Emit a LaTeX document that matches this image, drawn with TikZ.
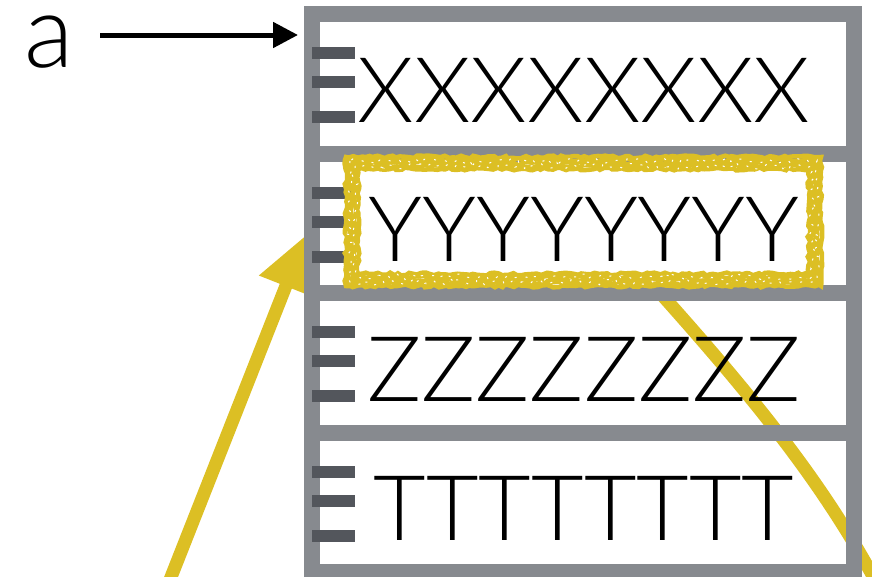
\documentclass[tikz,border=0pt]{standalone}
\usepackage{fontspec}
\setmainfont{Lato Light}
\usetikzlibrary{arrows.meta,decorations.pathmorphing}
\definecolor{framegray}{HTML}{878A8F}
\definecolor{notchgray}{HTML}{53565C}
\definecolor{chalkyellow}{HTML}{DCBF24}

\begin{document}
\begin{tikzpicture}[x=1pt,y=-1pt,
    cell/.style={draw=framegray,line width=16pt,minimum width=542pt,minimum height=139.5pt,inner sep=0pt},
    word/.style={anchor=base,inner sep=0pt,font=\fontsize{90.7}{90}\selectfont},
    notch/.style={fill=notchgray},
    hint/.style={draw=chalkyellow,line width=13pt},
    chalk/.style={draw=chalkyellow,line width=4.5pt,line join=miter,decorate,
      decoration={random steps,segment length=4pt,amplitude=1.4pt}},
    grain/.style={draw=white,line width=1pt,dash pattern=on 2pt off 9pt,decorate,
      decoration={random steps,segment length=4pt,amplitude=3pt}},
    pointer/.style={draw=black,line width=5pt,-{Triangle[length=25pt,width=25pt]}}]
  \useasboundingbox (0,0) rectangle (872,576);
  \clip (0,0) rectangle (872,576);
  \pgfmathsetseed{7}
  % yellow hints go behind the frame
  \coordinate (foot) at (160,605);
  \coordinate (aim) at (306,235);
  \coordinate (root) at (653,285);
  \coordinate (tail) at (886,600);
  \draw[hint,-{Triangle[length=55pt,width=54pt]}] (foot) -- (aim);
  \draw[hint] (root) .. controls (788,435) and (838,510) .. (tail);
  % frame rows
  \foreach \r in {1,...,4}
    \node[cell] (row\r) at (583,{83.75+139.5*(\r-1)}) {};
  \foreach \r in {0,...,3}
    \foreach \d in {39,68,103}
      \fill[notch] (312,{14+139.5*\r+\d-6}) rectangle ++(43,12);
  % marked row, drawn as a rough chalk band
  \coordinate (pickA) at (352,163);
  \coordinate (pickB) at (815,280);
  \foreach \o in {-6,-3,...,6}
    \draw[chalk] ([shift={(-\o,-\o)}]pickA) rectangle ([shift={(\o,\o)}]pickB);
  \draw[grain] ([shift={(-2,-2)}]pickA) rectangle ([shift={(2,2)}]pickB);
  \draw[grain] ([shift={(3,3)}]pickA) rectangle ([shift={(-3,-3)}]pickB);
  % contents
  \node[word] (xrow) at (584,122) {XXXXXXXX};
  \node[word] (yrow) at (584,261.5) {YYYYYYYY};
  \node[word] (zrow) at (584,401) {ZZZZZZZZ};
  \node[word] (trow) at (584,540.5) {TTTTTTTT};
  % label
  \node[anchor=base,inner sep=0pt,font=\fontsize{102}{102}\selectfont] (alabel) at (49.5,67) {a};
  \coordinate (apoint) at (298,35);
  \draw[pointer] ([xshift=26pt]alabel.east |- apoint) -- (apoint);
\end{tikzpicture}
\end{document}
